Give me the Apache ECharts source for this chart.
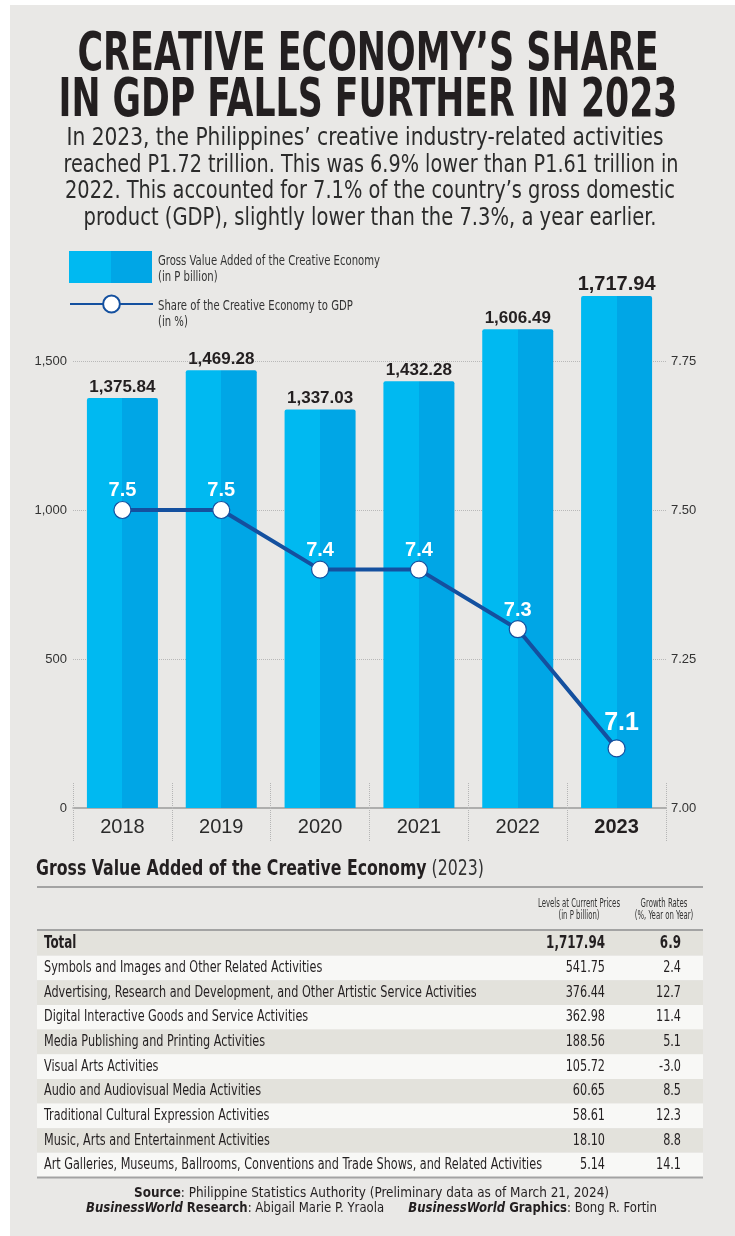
<!DOCTYPE html>
<html><head><meta charset="utf-8">
<script src="https://cdn.jsdelivr.net/npm/echarts@6/dist/echarts.min.js"></script>
<style>html,body{margin:0;padding:0;background:#fff}#c{width:735px;height:1236px}</style>
</head><body><div id="c"></div>
<script>
// ---------- DATA ----------
const years = ['2018', '2019', '2020', '2021', '2022', '2023'];
const gva = [1375.84, 1469.28, 1337.03, 1432.28, 1606.49, 1717.94];
const share = [7.5, 7.5, 7.4, 7.4, 7.3, 7.1];
const barName = 'Gross Value Added of the Creative Economy';
const barUnit = '(in P billion)';
const lineName = 'Share of the Creative Economy to GDP';
const lineUnit = '(in %)';

const titleLines = ['CREATIVE ECONOMY\u2019S SHARE', 'IN GDP FALLS FURTHER IN 2023'];
const subtitleLines = [
  'In 2023, the Philippines\u2019 creative industry-related activities',
  'reached P1.72 trillion. This was 6.9% lower than P1.61 trillion in',
  '2022. This accounted for 7.1% of the country\u2019s gross domestic',
  'product (GDP), slightly lower than the 7.3%, a year earlier.'
];

const tableTitle = 'Gross Value Added of the Creative Economy';
const tableYear = '(2023)';
const tableHead1 = ['Levels at Current Prices', '(in P billion)'];
const tableHead2 = ['Growth Rates', '(%, Year on Year)'];
const tableLabels = [
  'Total',
  'Symbols and Images and Other Related Activities',
  'Advertising, Research and Development, and Other Artistic Service Activities',
  'Digital Interactive Goods and Service Activities',
  'Media Publishing and Printing Activities',
  'Visual Arts Activities',
  'Audio and Audiovisual Media Activities',
  'Traditional Cultural Expression Activities',
  'Music, Arts and Entertainment Activities',
  'Art Galleries, Museums, Ballrooms, Conventions and Trade Shows, and Related Activities'
];
const tableLevels = [1717.94, 541.75, 376.44, 362.98, 188.56, 105.72, 60.65, 58.61, 18.10, 5.14];
const tableGrowth = [6.9, 2.4, 12.7, 11.4, 5.1, -3.0, 8.5, 12.3, 8.8, 14.1];

const sourceText = 'Philippine Statistics Authority (Preliminary data as of March 21, 2024)';
const researcher = 'Abigail Marie P. Yraola';
const artist = 'Bong R. Fortin';

// ---------- FONT ----------
function hasFont(name) {
  const c = document.createElement('canvas').getContext('2d');
  const s = 'abcdefghijklmnopqrstuvwxyz0123456789ABCDEFG';
  let diff = false;
  ['monospace', 'serif'].forEach(function (fb) {
    c.font = '40px ' + fb; const a = c.measureText(s).width;
    c.font = '40px "' + name + '", ' + fb; const b = c.measureText(s).width;
    if (a !== b) diff = true;
  });
  return diff;
}
const NARROW = ['Liberation Sans Narrow', 'DejaVu Sans Condensed', 'Roboto Condensed', 'Liberation Sans'].find(hasFont) || 'sans-serif';
const FAM = '"' + NARROW + '", sans-serif';
const LAB = '"Liberation Sans", Arial, sans-serif';   // narrowest digits among installed fonts
const mctx = document.createElement('canvas').getContext('2d');
function mw(text, size, weight, style) {
  mctx.font = (style || 'normal') + ' ' + (weight || 'normal') + ' ' + size + 'px ' + FAM;
  return mctx.measureText(text).width;
}
function T(text, x, y, size, o) {
  o = o || {};
  const w = mw(text, size, o.weight, o.style);
  const sx = o.width ? o.width / w : (o.sx || 1);
  return {
    type: 'text', x: x, y: y, scaleX: sx, silent: true, z: 10,
    style: {
      text: text, x: 0, y: 0, fontSize: size, fontWeight: o.weight || 'normal',
      fontStyle: o.style || 'normal', fontFamily: FAM, fill: o.color || '#2a2a2a',
      align: o.align || 'left', verticalAlign: 'middle'
    }
  };
}
function fmt2(v) { return v.toLocaleString('en-US', { minimumFractionDigits: 2, maximumFractionDigits: 2 }); }

// ---------- GRAPHICS ----------
const g = [];
g.push({ type: 'rect', shape: { x: 0, y: 0, width: 10, height: 1236 }, style: { fill: '#fff' }, silent: true });
g.push({ type: 'rect', shape: { x: 0, y: 0, width: 735, height: 5 }, style: { fill: '#fff' }, silent: true });

// title
const titleW = [581, 619];
const titleY = [56, 102];
titleLines.forEach(function (t, i) {
  g.push(T(t, 368, titleY[i], 53, { weight: 'bold', width: titleW[i], align: 'center', color: '#231f20' }));
});
// subtitle
const subW = [597, 615, 610, 573];
const subX = [365, 371, 370, 370];
subtitleLines.forEach(function (t, i) {
  g.push(T(t, subX[i], 139 + i * 26.5, 24, { width: subW[i], align: 'center', color: '#2b2b2b' }));
});

// legend texts (icons drawn by the legend component)
const legSx = 222 / mw(barName, 14);
g.push(T(barName, 158, 261, 14, { sx: legSx, color: '#333' }));
g.push(T(barUnit, 158, 277.5, 14, { sx: legSx, color: '#333' }));
g.push(T(lineName, 158, 306, 14, { sx: legSx, color: '#333' }));
g.push(T(lineUnit, 158, 322.5, 14, { sx: legSx, color: '#333' }));

// table title (rich)
(function () {
  const wb = mw(tableTitle, 21, 'bold'), wr = mw(' ' + tableYear, 21);
  const sx = 448 / (wb + wr);
  g.push({
    type: 'text', x: 36, y: 870, scaleX: sx, silent: true, z: 10,
    style: {
      text: '{b|' + tableTitle + '}{r| ' + tableYear + '}', x: 0, y: 0, align: 'left', verticalAlign: 'middle',
      fontFamily: FAM, fontSize: 21,
      rich: {
        b: { fontFamily: FAM, fontSize: 21, fontWeight: 'bold', fill: '#231f20' },
        r: { fontFamily: FAM, fontSize: 21, fontWeight: 'normal', fill: '#333' }
      }
    }
  });
})();
// rows
const ruleX = 37, ruleW = 666;
const rowTop = 931, rowH = 24.65;
const rowSx = 498 / mw(tableLabels[tableLabels.length - 1], 16);
tableLabels.forEach(function (lab, i) {
  const y = rowTop + i * rowH;
  g.push({ type: 'rect', shape: { x: ruleX, y: y, width: ruleW, height: rowH }, style: { fill: i % 2 === 0 ? '#e3e2dc' : '#f8f8f6' }, silent: true, z: 5 });
  const cy = y + rowH / 2;
  const wt = i === 0 ? 'bold' : 'normal';
  const sz = i === 0 ? 17 : 16;
  g.push(T(lab, 44, cy, sz, { weight: wt, sx: rowSx, color: '#231f20' }));
  g.push(T(fmt2(tableLevels[i]), 605, cy, sz, { weight: wt, sx: rowSx, align: 'right', color: '#231f20' }));
  g.push(T(tableGrowth[i].toFixed(1), 681, cy, sz, { weight: wt, sx: rowSx, align: 'right', color: '#231f20' }));
});
[887, 930, rowTop + tableLabels.length * rowH].forEach(function (y) {
  g.push({ type: 'rect', shape: { x: ruleX, y: y - 1, width: ruleW, height: 2 }, style: { fill: '#a3a3a3' }, silent: true, z: 6 });
});
// header
const headSx = 82 / mw(tableHead1[0], 12.5);
g.push(T(tableHead1[0], 579, 904, 12.5, { sx: headSx, align: 'center', color: '#333' }));
g.push(T(tableHead1[1], 579, 916, 12.5, { sx: headSx, align: 'center', color: '#333' }));
g.push(T(tableHead2[0], 664, 904, 12.5, { sx: headSx, align: 'center', color: '#333' }));
g.push(T(tableHead2[1], 664, 916, 12.5, { sx: headSx, align: 'center', color: '#333' }));

// source lines
(function () {
  const fs = 14;
  const w1 = mw('Source', fs, 'bold') + mw(': ' + sourceText, fs);
  g.push({
    type: 'text', x: 371.5, y: 1193, scaleX: 475 / w1, silent: true, z: 10,
    style: {
      text: '{b|Source}{r|: ' + sourceText + '}', x: 0, y: 0, align: 'center', verticalAlign: 'middle',
      fontFamily: FAM, fontSize: fs,
      rich: {
        b: { fontFamily: FAM, fontSize: fs, fontWeight: 'bold', fill: '#231f20' },
        r: { fontFamily: FAM, fontSize: fs, fill: '#231f20' }
      }
    }
  });
  const sp = 26;
  const w2 = 2 * mw('BusinessWorld', fs, 'bold', 'italic') + mw(' Research', fs, 'bold') + mw(' Graphics', fs, 'bold') +
    mw(': ' + researcher, fs) + mw(': ' + artist, fs) + sp;
  g.push({
    type: 'text', x: 371.5, y: 1208, scaleX: 571 / w2, silent: true, z: 10,
    style: {
      text: '{bi|BusinessWorld}{b| Research}{r|: ' + researcher + '}{sp|}{bi|BusinessWorld}{b| Graphics}{r|: ' + artist + '}',
      x: 0, y: 0, align: 'center', verticalAlign: 'middle', fontFamily: FAM, fontSize: fs,
      rich: {
        bi: { fontFamily: FAM, fontSize: fs, fontWeight: 'bold', fontStyle: 'italic', fill: '#231f20' },
        b: { fontFamily: FAM, fontSize: fs, fontWeight: 'bold', fill: '#231f20' },
        r: { fontFamily: FAM, fontSize: fs, fill: '#231f20' },
        sp: { width: sp }
      }
    }
  });
})();

// ---------- CHART ----------
const LIGHT = '#00b9f1', DARK = '#00a6e6', LINE = '#14509f';
const barColor = {
  type: 'linear', x: 0, y: 0, x2: 1, y2: 0,
  colorStops: [{ offset: 0, color: LIGHT }, { offset: 0.5, color: LIGHT }, { offset: 0.5, color: DARK }, { offset: 1, color: DARK }]
};
const last = years.length - 1;

const option = {
  backgroundColor: '#e9e8e6',
  animation: false,
  textStyle: { fontFamily: LAB },
  graphic: { elements: g },
  legend: [
    {
      data: [barName], left: 69, top: 251, orient: 'vertical', padding: 0,
      itemWidth: 83, itemHeight: 32, icon: 'rect', selectedMode: false,
      formatter: function () { return ''; }
    },
    {
      data: [lineName], left: 69, top: 293.5, orient: 'vertical', padding: 0,
      itemWidth: 83, itemHeight: 21, selectedMode: false,
      formatter: function () { return ''; }
    }
  ],
  grid: { left: 73, right: 69, top: 286.5, bottom: 428, containLabel: false },
  xAxis: [
    {
      type: 'category', data: years, position: 'bottom',
      axisLine: { lineStyle: { color: '#9a9a9a', width: 1.5 } },
      axisTick: { show: true, interval: 0, length: 34, lineStyle: { type: 'dotted', color: '#b5b5b5', width: 1 } },
      axisLabel: {
        interval: 0, margin: 9, fontSize: 20, color: '#2a2a2a', fontFamily: LAB,
        formatter: function (v, i) { return i === last ? '{b|' + v + '}' : v; },
        rich: { b: { fontSize: 20, fontWeight: 'bold', color: '#231f20', fontFamily: LAB } }
      },
      splitLine: { show: false }
    },
    {
      type: 'category', data: years, position: 'bottom', offset: 0,
      axisLine: { show: false },
      axisTick: { show: true, interval: 0, inside: true, length: 26, lineStyle: { type: 'dotted', color: '#b5b5b5', width: 1 } },
      axisLabel: { show: false }, splitLine: { show: false }
    }
  ],
  yAxis: [
    {
      type: 'value', min: 0, max: 1750, interval: 500, position: 'left',
      axisLine: { show: false }, axisTick: { show: false },
      axisLabel: {
        margin: 6, fontSize: 13, color: '#333', fontFamily: LAB, showMaxLabel: false,
        formatter: function (v) { return v.toLocaleString('en-US'); }
      },
      splitLine: { show: true, showMinLine: false, showMaxLine: false, lineStyle: { type: 'dotted', color: '#b8b8b8', width: 1 } }
    },
    {
      type: 'value', min: 7, max: 7.875, interval: 0.25, position: 'right',
      axisLine: { show: false }, axisTick: { show: false },
      axisLabel: {
        margin: 5, fontSize: 13, color: '#333', fontFamily: LAB, showMaxLabel: false,
        formatter: function (v) { return v.toFixed(2); }
      },
      splitLine: { show: false }
    }
  ],
  series: [
    {
      name: barName, type: 'bar', xAxisIndex: 0, yAxisIndex: 0, barWidth: 71,
      itemStyle: { color: barColor, borderRadius: [2, 2, 0, 0] },
      label: {
        show: true, position: 'top', distance: 2.5, fontSize: 17, fontWeight: 'bold', color: '#231f20', fontFamily: LAB,
        formatter: function (p) { return fmt2(p.value); }
      },
      data: gva.map(function (v, i) { return i === last ? { value: v, label: { fontSize: 20, distance: 1.5 } } : v; })
    },
    {
      name: lineName, type: 'line', xAxisIndex: 0, yAxisIndex: 1,
      symbol: 'circle', symbolSize: 17,
      lineStyle: { color: LINE, width: 4 },
      itemStyle: { color: '#ffffff', borderColor: LINE, borderWidth: 1.2 },
      label: {
        show: true, position: 'top', distance: 0, fontSize: 20, fontWeight: 'bold', color: '#ffffff', fontFamily: LAB,
        formatter: function (p) { return p.value.toFixed(1); }
      },
      data: share.map(function (v, i) { return i === last ? { value: v, label: { fontSize: 25, distance: 4, offset: [5, 0] } } : v; })
    }
  ]
};
const chart = echarts.init(document.getElementById('c'), null, { renderer: 'canvas' });
chart.setOption(option);
</script>
</body></html>
